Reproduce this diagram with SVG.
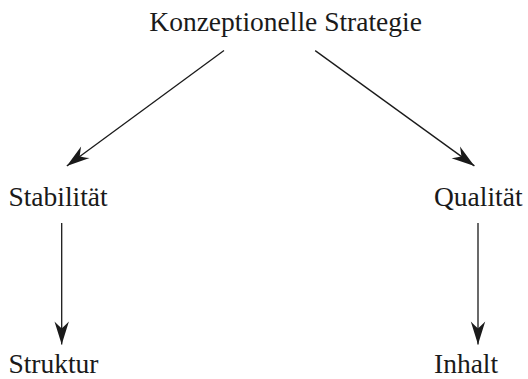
<svg xmlns="http://www.w3.org/2000/svg" width="528" height="379" viewBox="0 0 528 379">
  <style>
    .lbl { font-family: "Liberation Serif", "DejaVu Serif", serif; font-size: 27.5px; fill: #1a1a1a; }
    .edge { stroke: #1a1a1a; stroke-width: 1.3; fill: none; marker-end: url(#ah); }
  </style>
  <defs>
    <marker id="ah" markerUnits="userSpaceOnUse" markerWidth="30" markerHeight="20" viewBox="-26 -10 30 20" refX="0" refY="0" orient="auto" overflow="visible">
      <path d="M0,0 L-23,-7.2 Q-18,-2.2 -16,0 Q-18,2.2 -23,7.2 Z" fill="#1a1a1a"/>
    </marker>
  </defs>
  <g id="connectors">
    <line class="edge" x1="224" y1="50.6" x2="66.8" y2="165.9"/>
    <line class="edge" x1="315.2" y1="50.6" x2="474.4" y2="165.9"/>
    <line class="edge" x1="61.7" y1="223" x2="61.7" y2="344.6"/>
    <line class="edge" x1="478" y1="223" x2="478" y2="344.6"/>
  </g>
  <g id="node-strategie"><text class="lbl" x="285.6" y="31" text-anchor="middle">Konzeptionelle Strategie</text></g>
  <g id="node-stabilitaet"><text class="lbl" x="8.4" y="205.7">Stabilität</text></g>
  <g id="node-qualitaet"><text class="lbl" x="434" y="205.7">Qualität</text></g>
  <g id="node-struktur"><text class="lbl" x="8.4" y="373">Struktur</text></g>
  <g id="node-inhalt"><text class="lbl" x="434" y="373">Inhalt</text></g>
</svg>
